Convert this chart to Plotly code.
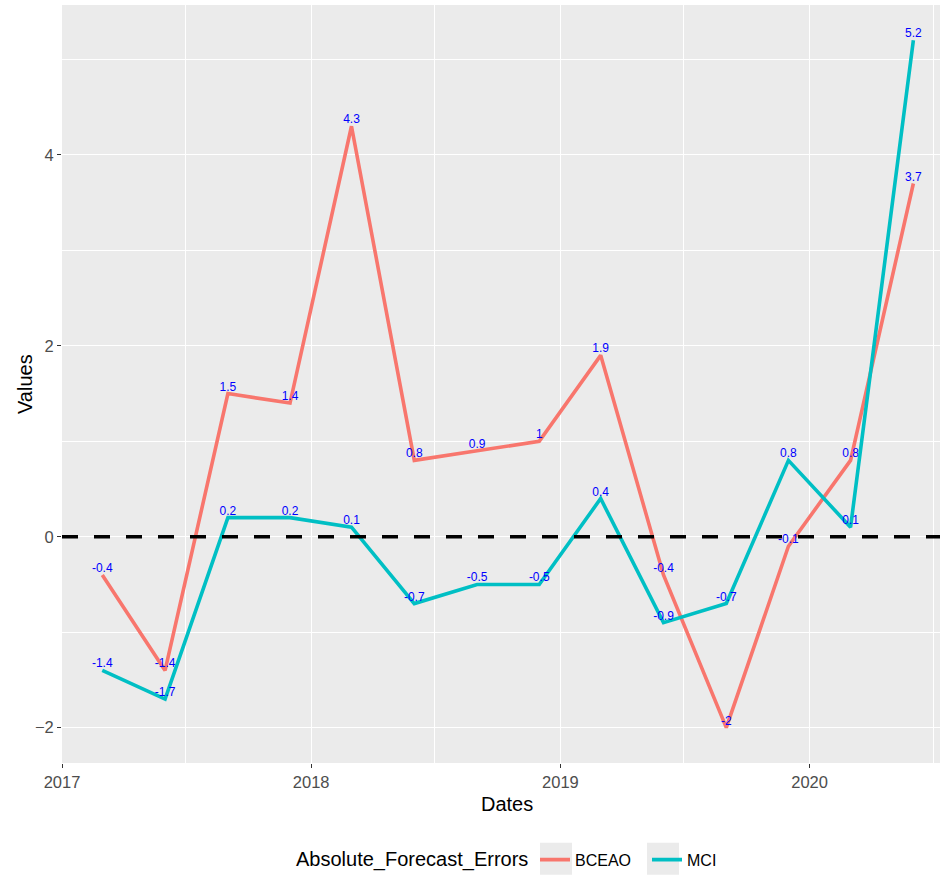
import plotly.graph_objects as go

# ---- data ----
dates = ["2017-03-01", "2017-06-01", "2017-09-01", "2017-12-01",
         "2018-03-01", "2018-06-01", "2018-09-01", "2018-12-01",
         "2019-03-01", "2019-06-01", "2019-09-01", "2019-12-01",
         "2020-03-01", "2020-06-01"]
bceao = [-0.4, -1.4, 1.5, 1.4, 4.3, 0.8, 0.9, 1, 1.9, -0.4, -2, -0.1, 0.8, 3.7]
mci = [-1.4, -1.7, 0.2, 0.2, 0.1, -0.7, -0.5, -0.5, 0.4, -0.9, -0.7, 0.8, 0.1, 5.2]
series_names = ["BCEAO", "MCI"]
series_colors = ["#F8766D", "#00BFC4"]
legend_title = "Absolute_Forecast_Errors"
x_title = "Dates"
y_title = "Values"

x_major = ["2017-01-01", "2018-01-01", "2019-01-01", "2020-01-01"]
x_major_text = ["2017", "2018", "2019", "2020"]
x_minor = ["2017-07-01", "2018-07-01", "2019-07-01", "2020-07-01"]
y_major = [-2, 0, 2, 4]
y_minor = [-1, 1, 3, 5]

FONT = "Liberation Sans, Arial, sans-serif"
W, H = 940, 877
ML, MR, MT, MB = 62, 0, 5, 112
PW, PH = W - ML - MR, H - MT - MB


def px_x(p):
    return (p - ML) / PW


def px_y(p):
    return (H - MB - p) / PH


fig = go.Figure()
for name, vals, col in zip(series_names, [bceao, mci], series_colors):
    fig.add_trace(go.Scatter(
        x=dates, y=vals, name=name, mode="lines+text",
        line=dict(color=col, width=3.6),
        text=[f"{v:g}" for v in vals],
        textposition="top center",
        textfont=dict(color="#0000FF", size=12, family=FONT),
        cliponaxis=False, hoverinfo="skip",
    ))

fig.add_hline(y=0, line=dict(color="black", width=3.5, dash="16px,16px"))

# legend key backgrounds (ggplot style)
for x0, x1 in [(540, 572), (647, 679)]:
    fig.add_shape(type="rect", xref="paper", yref="paper",
                  x0=px_x(x0), x1=px_x(x1), y0=px_y(877), y1=px_y(845),
                  fillcolor="#EBEBEB", line=dict(width=0), layer="below")

fig.add_annotation(text=legend_title, xref="paper", yref="paper",
                   x=px_x(294), y=px_y(862), xanchor="left", yanchor="middle",
                   showarrow=False, font=dict(size=20, color="black", family=FONT))
fig.add_annotation(text=x_title, xref="paper", yref="paper",
                   x=px_x(507), y=px_y(806), xanchor="center", yanchor="middle",
                   showarrow=False, font=dict(size=20, color="black", family=FONT))
fig.add_annotation(text=y_title, xref="paper", yref="paper", textangle=-90,
                   x=px_x(25), y=px_y(385), xanchor="center", yanchor="middle",
                   showarrow=False, font=dict(size=20, color="black", family=FONT))

fig.update_layout(
    width=W, height=H,
    margin=dict(l=ML, r=MR, t=MT, b=MB),
    paper_bgcolor="white",
    plot_bgcolor="#EBEBEB",
    font=dict(family=FONT, color="#4D4D4D", size=16),
    xaxis=dict(
        type="date", automargin=False,
        range=["2017-01-01", "2020-07-10"],
        tickvals=x_major, ticktext=x_major_text,
        showgrid=True, gridcolor="white", gridwidth=1.3,
        minor=dict(tickvals=x_minor, showgrid=True, gridcolor="white", gridwidth=0.7, ticks=""),
        ticks="outside", ticklen=4, tickcolor="#333333", tickwidth=1,
        tickfont=dict(size=16.5, color="#4D4D4D"),
        zeroline=False, showline=False,
    ),
    yaxis=dict(
        automargin=False,
        range=[-2.37, 5.57],
        tickvals=y_major,
        showgrid=True, gridcolor="white", gridwidth=1.3,
        minor=dict(tickvals=y_minor, showgrid=True, gridcolor="white", gridwidth=0.7, ticks=""),
        ticks="outside", ticklen=4, tickcolor="#333333", tickwidth=1,
        tickfont=dict(size=16.5, color="#4D4D4D"),
        zeroline=False, showline=False,
    ),
    legend=dict(
        orientation="h", x=px_x(535), xanchor="left", y=px_y(862), yanchor="middle",
        font=dict(size=16, color="black"),
        entrywidth=67, entrywidthmode="pixels",
        bgcolor="rgba(0,0,0,0)",
    ),
    showlegend=True,
)

fig.write_html("out.html", config={"displayModeBar": False},
               post_script="document.body.style.margin='0';document.body.style.overflow='hidden';")
